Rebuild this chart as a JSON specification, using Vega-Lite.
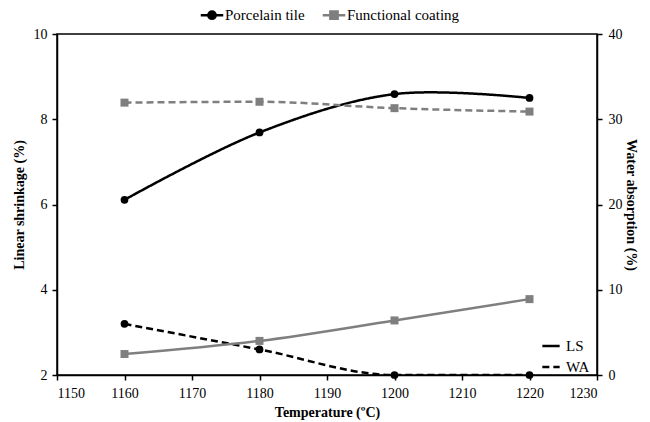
{
  "$schema": "https://vega.github.io/schema/vega-lite/v6.json",
  "autosize": {"type": "none"},
  "width": 540,
  "height": 341,
  "padding": {"left": 57, "top": 34, "right": 53, "bottom": 47},
  "background": "white",
  "config": {
    "font": "Liberation Serif",
    "view": {"stroke": "black", "strokeWidth": 1.5},
    "axis": {
      "grid": false,
      "domainColor": "black",
      "domainWidth": 1.5,
      "tickColor": "black",
      "tickWidth": 1.5,
      "tickSize": 5,
      "labelColor": "black",
      "labelFont": "Liberation Serif",
      "labelFontSize": 14,
      "titleFont": "Liberation Serif",
      "titleFontSize": 14,
      "titleFontWeight": "bold",
      "titleColor": "black"
    },
    "legend": {
      "labelFont": "Liberation Serif",
      "labelFontSize": 15,
      "labelColor": "black"
    }
  },
  "data": {
    "values": [
      {"material": "Porcelain tile", "T": 1160, "LS": 6.11, "WA": 6.0},
      {"material": "Porcelain tile", "T": 1180, "LS": 7.69, "WA": 3.0},
      {"material": "Porcelain tile", "T": 1200, "LS": 8.59, "WA": 0.0},
      {"material": "Porcelain tile", "T": 1220, "LS": 8.5, "WA": 0.0},
      {"material": "Functional coating", "T": 1160, "LS": 8.39, "WA": 2.46},
      {"material": "Functional coating", "T": 1180, "LS": 8.41, "WA": 4.0},
      {"material": "Functional coating", "T": 1200, "LS": 8.26, "WA": 6.4},
      {"material": "Functional coating", "T": 1220, "LS": 8.18, "WA": 8.9}
    ]
  },
  "encoding": {
    "x": {
      "field": "T",
      "type": "quantitative",
      "scale": {"domain": [1150, 1230], "nice": false, "zero": false},
      "axis": {"values": [1150, 1160, 1170, 1180, 1190, 1200, 1210, 1220, 1230], "format": "d", "title": "Temperature (ºC)", "titlePadding": 5, "labelPadding": 6}
    },
    "color": {
      "field": "material",
      "type": "nominal",
      "scale": {"domain": ["Porcelain tile", "Functional coating"], "range": ["#000000", "#7f7f7f"]},
      "legend": {
        "title": null,
        "orient": "none",
        "direction": "horizontal",
        "legendX": 145,
        "legendY": -29,
        "symbolSize": 300,
        "symbolStrokeWidth": 2.5,
        "labelOffset": 3,
        "columnPadding": 12,
        "encode": {
          "symbols": {
            "update": {
              "shape": {"signal": "datum.value === 'Porcelain tile' ? 'M-1.3,0H1.3M-0.42,0A0.42,0.42 0 1,0 0.42,0A0.42,0.42 0 1,0 -0.42,0Z' : 'M-1.3,0H1.3M-0.42,-0.42H0.42V0.42H-0.42Z'"},
              "fill": {"signal": "datum.value === 'Porcelain tile' ? '#000000' : '#7f7f7f'"},
              "stroke": {"signal": "datum.value === 'Porcelain tile' ? '#000000' : '#7f7f7f'"},
              "strokeWidth": {"value": 2.5},
              "opacity": {"value": 1}
            }
          }
        }
      }
    }
  },
  "layer": [
    {
      "encoding": {
        "y": {
          "field": "LS",
          "type": "quantitative",
          "scale": {"domain": [2, 10], "nice": false, "zero": false},
          "axis": {"values": [2, 4, 6, 8, 10], "title": "Linear shrinkage (%)", "orient": "left", "titlePadding": 7, "labelPadding": 5}
        }
      },
      "layer": [
        {
          "transform": [{"filter": "datum.material === 'Porcelain tile'"}],
          "mark": {"type": "line", "interpolate": "catmull-rom", "strokeWidth": 2.5, "clip": true},
          "encoding": {
            "strokeDash": {"datum": "LS", "type": "nominal", "scale": {"domain": ["LS", "WA"], "range": [[1, 0], [7, 4]]},
              "legend": {"title": null, "orient": "none", "legendX": 484, "legendY": 302, "symbolType": "stroke", "symbolStrokeColor": "black", "symbolStrokeWidth": 2.5, "symbolSize": 300, "labelOffset": 5, "rowPadding": 3}}
          }
        },
        {
          "transform": [{"filter": "datum.material === 'Functional coating'"}],
          "mark": {"type": "line", "interpolate": "monotone", "strokeWidth": 2.5, "strokeDash": [7, 4], "clip": true},
          "encoding": {}
        },
        {
          "transform": [{"filter": "datum.material === 'Porcelain tile'"}],
          "mark": {"type": "point", "shape": "circle", "filled": true, "opacity": 1, "size": 60},
          "encoding": {}
        },
        {
          "transform": [{"filter": "datum.material === 'Functional coating'"}],
          "mark": {"type": "point", "shape": "square", "filled": true, "opacity": 1, "size": 64},
          "encoding": {}
        }
      ]
    },
    {
      "encoding": {
        "y": {
          "field": "WA",
          "type": "quantitative",
          "scale": {"domain": [0, 40], "nice": false, "zero": false},
          "axis": {"values": [0, 10, 20, 30, 40], "title": "Water absorption (%)", "orient": "right", "titlePadding": 1, "labelPadding": 6}
        }
      },
      "layer": [
        {
          "transform": [{"filter": "datum.material === 'Porcelain tile'"}],
          "mark": {"type": "line", "interpolate": "monotone", "strokeWidth": 2.5, "clip": true},
          "encoding": {
            "strokeDash": {"datum": "WA", "type": "nominal"}
          }
        },
        {
          "transform": [{"filter": "datum.material === 'Functional coating'"}],
          "mark": {"type": "line", "interpolate": "monotone", "strokeWidth": 2.5, "clip": true},
          "encoding": {}
        },
        {
          "transform": [{"filter": "datum.material === 'Porcelain tile'"}],
          "mark": {"type": "point", "shape": "circle", "filled": true, "opacity": 1, "size": 60},
          "encoding": {}
        },
        {
          "transform": [{"filter": "datum.material === 'Functional coating'"}],
          "mark": {"type": "point", "shape": "square", "filled": true, "opacity": 1, "size": 64},
          "encoding": {}
        }
      ]
    }
  ],
  "resolve": {"scale": {"y": "independent"}, "axis": {"y": "independent"}}
}
